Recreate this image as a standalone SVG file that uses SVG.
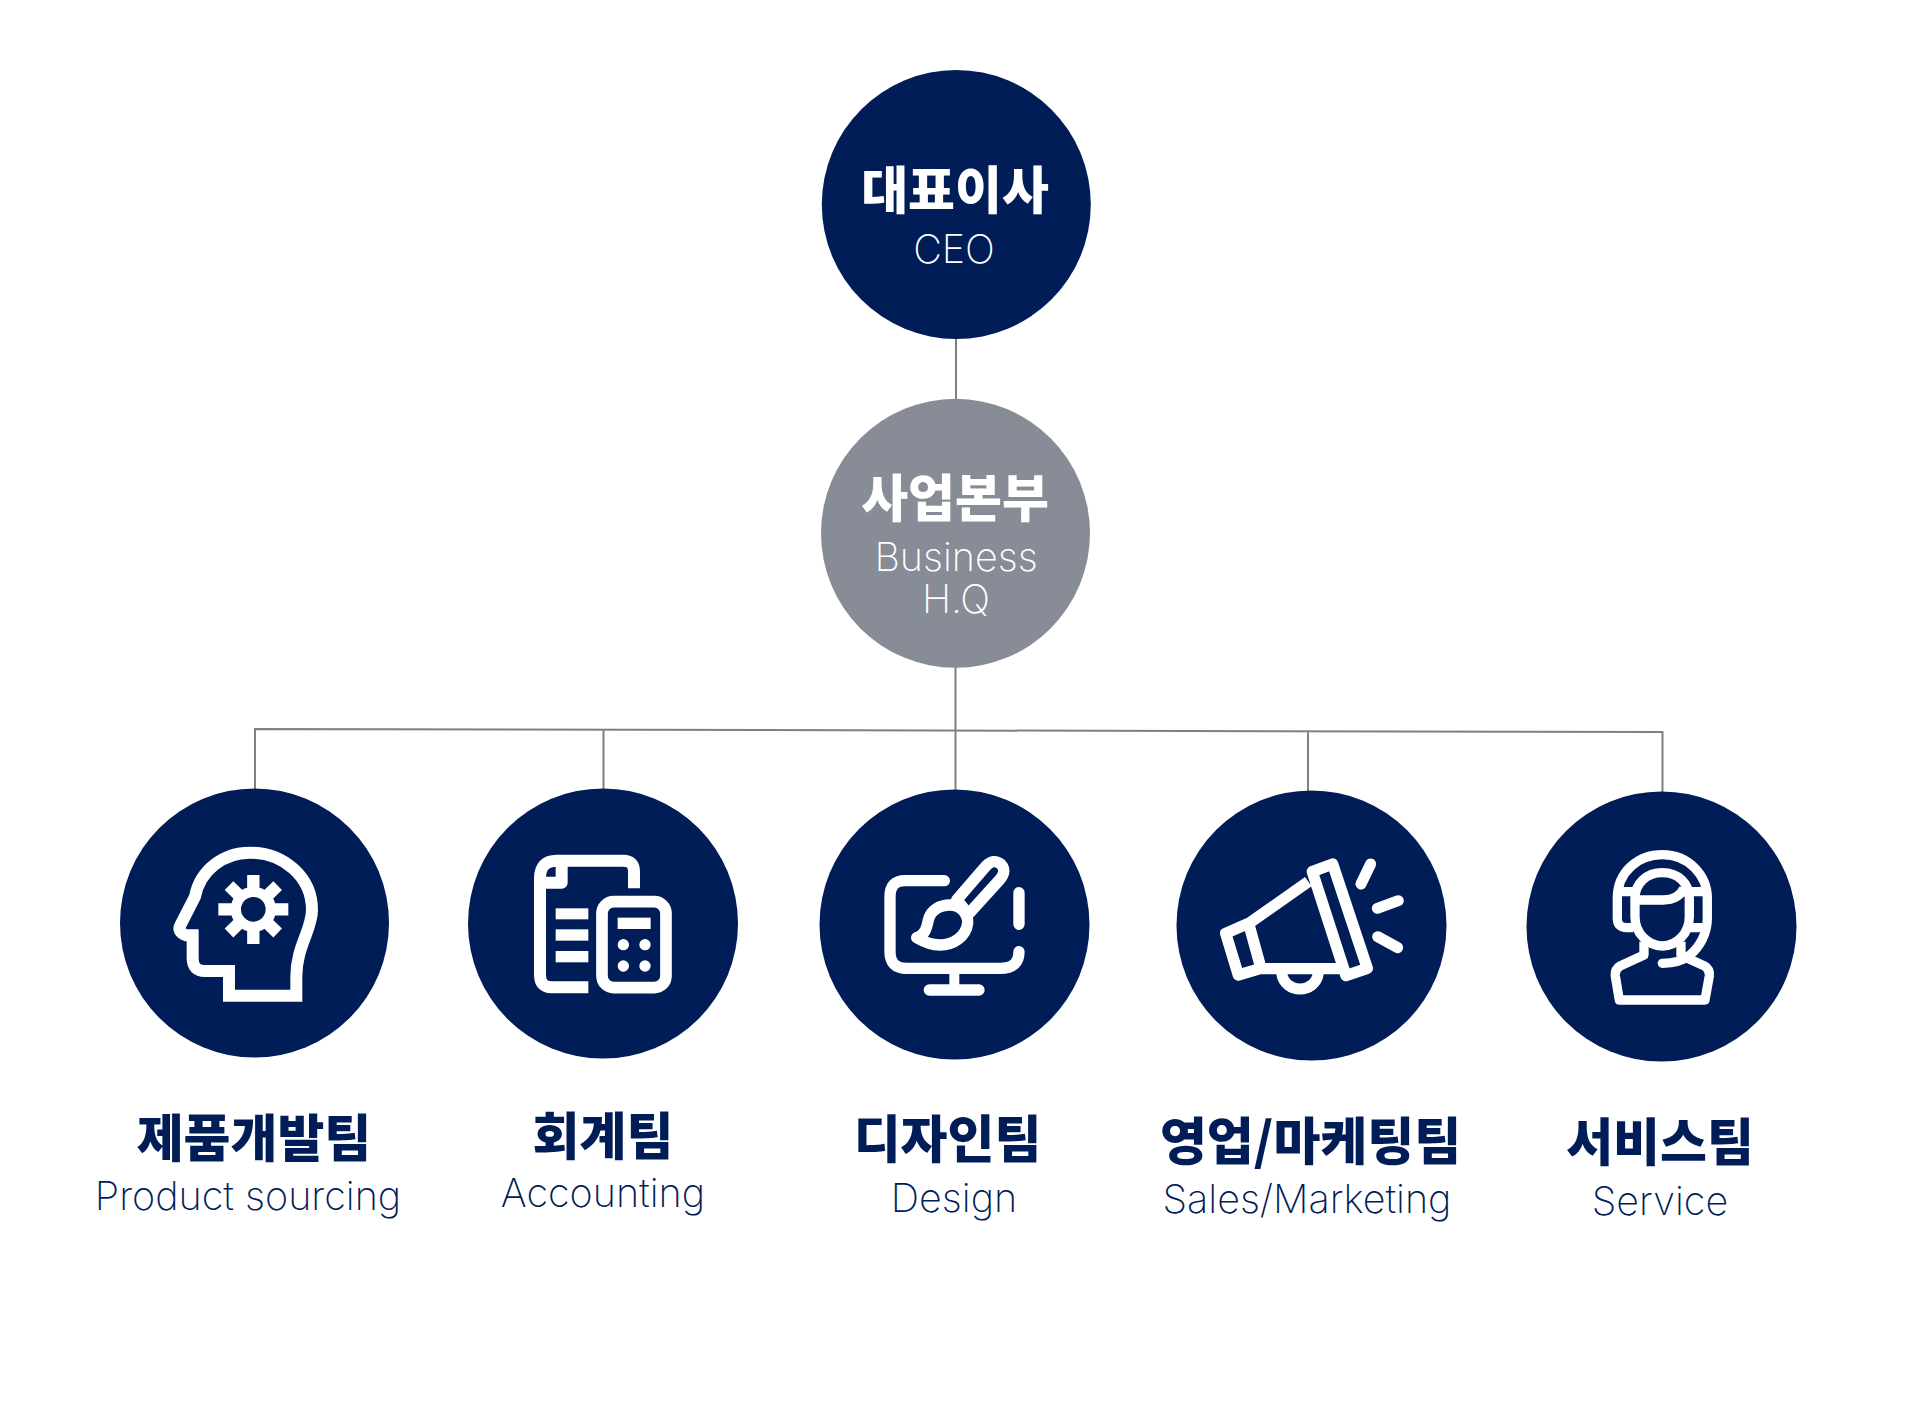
<svg xmlns="http://www.w3.org/2000/svg" width="1917" height="1402" viewBox="0 0 1917 1402">
<style>
.navy{fill:#001d57}.gray{fill:#888c96}
.ko{font-family:"Noto Sans CJK KR","Noto Sans",sans-serif;font-weight:900;font-size:51px;text-anchor:middle}
.en{font-family:Inter,"Liberation Sans",sans-serif;font-weight:200;font-size:39.500px;text-anchor:middle}
.w{fill:#fff}.n{fill:#001d57}
.ic{fill:none;stroke:#fff;stroke-width:35;stroke-linejoin:round}
.rc{stroke-linecap:round}
.con{fill:none;stroke:#808080;stroke-width:2}
</style>
<rect width="1917" height="1402" fill="#fff"/>
<g id="connectors" class="con">
<path d="M956 339V399M955.500 667V790"/>
<path d="M255 789V729L1662.500 732V792M603.500 730V789M1308 731.500V791"/>
</g>
<g id="ceo"><circle class="navy" cx="956.300" cy="204.500" r="134.500"/>
<text class="ko w" x="955" y="209">대표이사</text><text class="en w" x="954" y="263">CEO</text></g>
<g id="hq"><circle class="gray" cx="955.500" cy="533.300" r="134.500"/>
<text class="ko w" x="955" y="517">사업본부</text><text class="en w" x="956" y="571">Business</text><text class="en w" x="956" y="612.500">H.Q</text></g>
<g id="product"><circle class="navy" cx="254.500" cy="923" r="134.500"/>
<g transform="translate(150 830) scale(.3333)">
<path class="ic" style="stroke-width:36;stroke-linejoin:miter" d="M439 497H237V423H165Q128 423 128 385V316H108Q82 305 90 288L135 200C150 120 220 68 300 68C400 68 486 140 486 240C486 300 439 350 439 440Z"/>
<path class="ic" style="stroke-width:37" d="M310 135V342M205 238H415M237 167L383 309M383 167L237 309"/>
<circle class="w" cx="310" cy="238" r="68"/>
<circle class="n" cx="310" cy="238" r="37"/>
</g>
<text class="ko n" x="254" y="1156.500">제품개발팀</text><text class="en n" x="248" y="1210">Product sourcing</text></g>
<g id="accounting"><circle class="navy" cx="603" cy="923.500" r="135"/>
<g transform="translate(510 830) scale(.3333)">
<path class="ic" style="stroke-width:36" d="M372 175V125Q372 92 340 92H140Q90 92 90 145V435Q90 472 125 472H235M155 92V158H90"/>
<rect class="w" x="137" y="235" width="98" height="33"/><rect class="w" x="137" y="298" width="98" height="34"/><rect class="w" x="137" y="363" width="98" height="34"/>
<rect class="ic" x="276" y="215" width="192" height="258" rx="35"/>
<rect class="w" x="323" y="263" width="99" height="34"/>
<circle class="w" cx="340" cy="344" r="17"/><circle class="w" cx="405" cy="344" r="17"/><circle class="w" cx="340" cy="408" r="17"/><circle class="w" cx="405" cy="408" r="17"/>
</g>
<text class="ko n" x="603" y="1154.500">회계팀</text><text class="en n" x="603" y="1207">Accounting</text></g>
<g id="design"><circle class="navy" cx="954.500" cy="924.500" r="135"/>
<g transform="translate(860 840) scale(.3333)">
<path class="ic rc" style="stroke-width:34" d="M253 122H135Q90 122 90 170V335Q90 385 140 385H420Q477 385 477 335M477 158V253M208 450H357"/>
<path class="ic" style="stroke-width:30" d="M283 395V450"/>
<path class="ic rc" style="stroke-width:34" d="M290 180L378 78Q400 55 422 72Q442 92 420 118L322 226"/>
<path class="ic" style="stroke-width:30" d="M298 186L322 216"/>
<path class="ic rc" style="stroke-width:34" d="M170 293C195 285 200 265 205 240C212 210 240 195 270 195C305 195 325 225 323 250C318 290 280 315 240 315C210 315 190 305 170 293Z"/>
</g>
<text class="ko n" x="947.500" y="1157.500">디자인팀</text><text class="en n" x="954" y="1212">Design</text></g>
<g id="sales"><circle class="navy" cx="1311.500" cy="925.500" r="135"/>
<g transform="translate(1200 840) scale(.3333)">
<path class="ic" style="stroke-width:34" d="M337 95L398 72L502 385L438 407ZM325 125L150 248L77 280L115 405L183 385L148 258M183 386H440"/>
<path class="ic" style="stroke-width:33" d="M245 400C255 463 345 463 355 400"/>
<path class="ic rc" style="stroke-width:33" d="M483 132L512 72M532 205L595 182M533 290L593 323"/>
</g>
<text class="ko n" x="1310.500" y="1159.500">영업/마케팅팀</text><text class="en n" x="1307" y="1213">Sales/Marketing</text></g>
<g id="service"><circle class="navy" cx="1661.500" cy="926.500" r="135"/>
<g transform="translate(1500 820) scale(.3333)">
<g class="ic" style="stroke-width:28">
<path d="M400 323H380Q352 323 352 295V235C352 155 415 104 487 104C565 104 622 165 622 235V295C622 340 600 380 570 405"/>
<path class="rc" d="M487 430Q540 430 570 405"/>
<path d="M360 215H420M552 215H615M570 323H615"/>
<path d="M405 235C405 190 440 158 487 158C535 158 568 190 568 235V290C568 340 530 378 487 378C445 378 405 340 405 290Z"/>
<path d="M415 240H490Q535 240 552 205"/>
<path d="M432 365V405L362 437Q344 447 346 468L358 540H615L628 468Q630 447 612 437L556 412M543 365V410"/>
</g>
</g>
<text class="ko n" x="1660" y="1160.500">서비스팀</text><text class="en n" x="1660" y="1215">Service</text></g>
</svg>
